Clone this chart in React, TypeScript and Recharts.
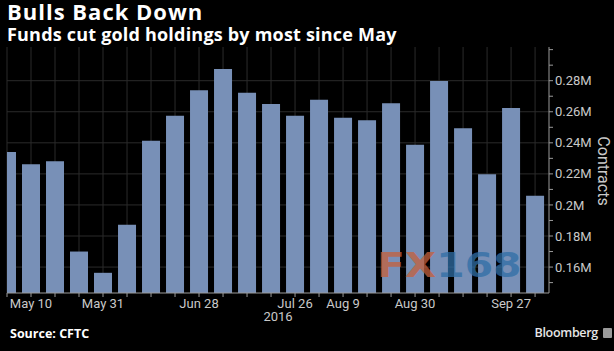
import { BarChart, Bar, XAxis, YAxis, CartesianGrid } from 'recharts';

// weekly CFTC reports, May 3 .. Oct 4 2016
const weeks = [
  'May 3', 'May 10', 'May 17', 'May 24', 'May 31',
  'Jun 7', 'Jun 14', 'Jun 21', 'Jun 28',
  'Jul 5', 'Jul 12', 'Jul 19', 'Jul 26',
  'Aug 2', 'Aug 9', 'Aug 16', 'Aug 23', 'Aug 30',
  'Sep 6', 'Sep 13', 'Sep 20', 'Sep 27',
  'Oct 4',
];

// net long gold positions, contracts
const holdings = [
  234100, 226200, 228200, 170000, 156300,
  187200, 241400, 257500, 273800,
  287500, 272300, 265000, 257500,
  267800, 256200, 254500, 265500, 238700,
  279800, 249400, 219800, 262400,
  205900,
];

const shownDates = ['May 10', 'May 31', 'Jun 28', 'Jul 26', 'Aug 9', 'Aug 30', 'Sep 27'];
const gridValues = [160000, 180000, 200000, 220000, 240000, 260000, 280000];
const axisTicks = [
  150000, 160000, 170000, 180000, 190000, 200000, 210000, 220000,
  230000, 240000, 250000, 260000, 270000, 280000, 290000, 300000,
];

const data = weeks.map((week, i) => ({ idx: i, week, value: holdings[i] }));
const indices = weeks.map((_, i) => i);

const tickFont = { fill: '#c9c9c9', fontSize: 13, fontFamily: 'Roboto, sans-serif' };

export default function App() {
  return (
    <div
      style={{
        position: 'absolute',
        left: 0,
        top: 0,
        width: 614,
        height: 351,
        background: '#000',
        overflow: 'hidden',
        fontFamily: '"Open Sans", sans-serif',
      }}
    >
      <div
        style={{
          position: 'absolute',
          left: 7,
          top: 0,
          color: '#fff',
          fontSize: 22,
          lineHeight: '22px',
          fontWeight: 700,
          letterSpacing: 1,
          whiteSpace: 'nowrap',
        }}
      >
        Bulls Back Down
      </div>
      <div
        style={{
          position: 'absolute',
          left: 7,
          top: 25,
          color: '#fff',
          fontSize: 18,
          lineHeight: '18px',
          fontWeight: 700,
          letterSpacing: 0.2,
          whiteSpace: 'nowrap',
        }}
      >
        Funds cut gold holdings by most since May
      </div>

      <BarChart
        width={614}
        height={351}
        data={data}
        margin={{ top: 47, right: 0, bottom: 28, left: 7 }}
        style={{ position: 'absolute', left: 0, top: 0 }}
      >
        <CartesianGrid
          stroke="#2b2b2b"
          strokeWidth={1}
          horizontalValues={gridValues}
          verticalValues={indices}
        />
        <XAxis
          type="number"
          dataKey="idx"
          domain={[0, 22.58]}
          allowDataOverflow
          ticks={indices}
          interval={0}
          tickFormatter={(i: number) => (shownDates.includes(weeks[i]) ? weeks[i] : '')}
          stroke="#9a9a9a"
          tickSize={4}
          tick={tickFont}
          height={30}
        />
        <YAxis
          orientation="right"
          domain={[143300, 301700]}
          allowDataOverflow
          ticks={axisTicks}
          interval={0}
          tickFormatter={(v: number) =>
            v >= 160000 && v <= 280000 && Math.round(v / 10000) % 2 === 0 ? `${v / 1e6}M` : ''
          }
          stroke="#9a9a9a"
          tickSize={4}
          tickMargin={2}
          tick={{ ...tickFont, textAnchor: 'start' }}
          width={65}
        />
        <Bar dataKey="value" fill="#7890b7" barSize={18} isAnimationActive={false} />
      </BarChart>

      <div
        style={{
          position: 'absolute',
          left: 377,
          top: 248,
          fontSize: 34,
          lineHeight: '34px',
          fontWeight: 700,
          fontFamily: '"DejaVu Sans", sans-serif',
          transform: 'scaleX(1.2)',
          transformOrigin: 'left top',
          opacity: 0.75,
          whiteSpace: 'nowrap',
        }}
      >
        <span style={{ color: '#c4603c' }}>FX</span>
        <span style={{ color: '#2f6ea6' }}>168</span>
      </div>

      <div
        style={{
          position: 'absolute',
          left: 603,
          top: 171,
          transform: 'translate(-50%, -50%) rotate(90deg)',
          color: '#c9c9c9',
          fontSize: 16,
          fontFamily: 'Roboto, sans-serif',
          whiteSpace: 'nowrap',
        }}
      >
        Contracts
      </div>
      <div
        style={{
          position: 'absolute',
          left: 278,
          top: 309,
          transform: 'translateX(-50%)',
          color: '#c9c9c9',
          fontSize: 13,
          fontFamily: 'Roboto, sans-serif',
        }}
      >
        2016
      </div>
      <div
        style={{
          position: 'absolute',
          left: 10,
          top: 325,
          color: '#fff',
          fontSize: 12.5,
          fontWeight: 700,
          whiteSpace: 'nowrap',
        }}
      >
        Source: CFTC
      </div>
      <div
        style={{
          position: 'absolute',
          right: 16,
          top: 324,
          color: '#e6e6e6',
          fontSize: 12.5,
          fontWeight: 600,
          letterSpacing: -0.3,
        }}
      >
        Bloomberg
      </div>
      <div
        style={{
          position: 'absolute',
          left: 603,
          top: 328,
          width: 9,
          height: 10,
          background: '#9a9a9a',
          borderRadius: 1,
        }}
      />
    </div>
  );
}
